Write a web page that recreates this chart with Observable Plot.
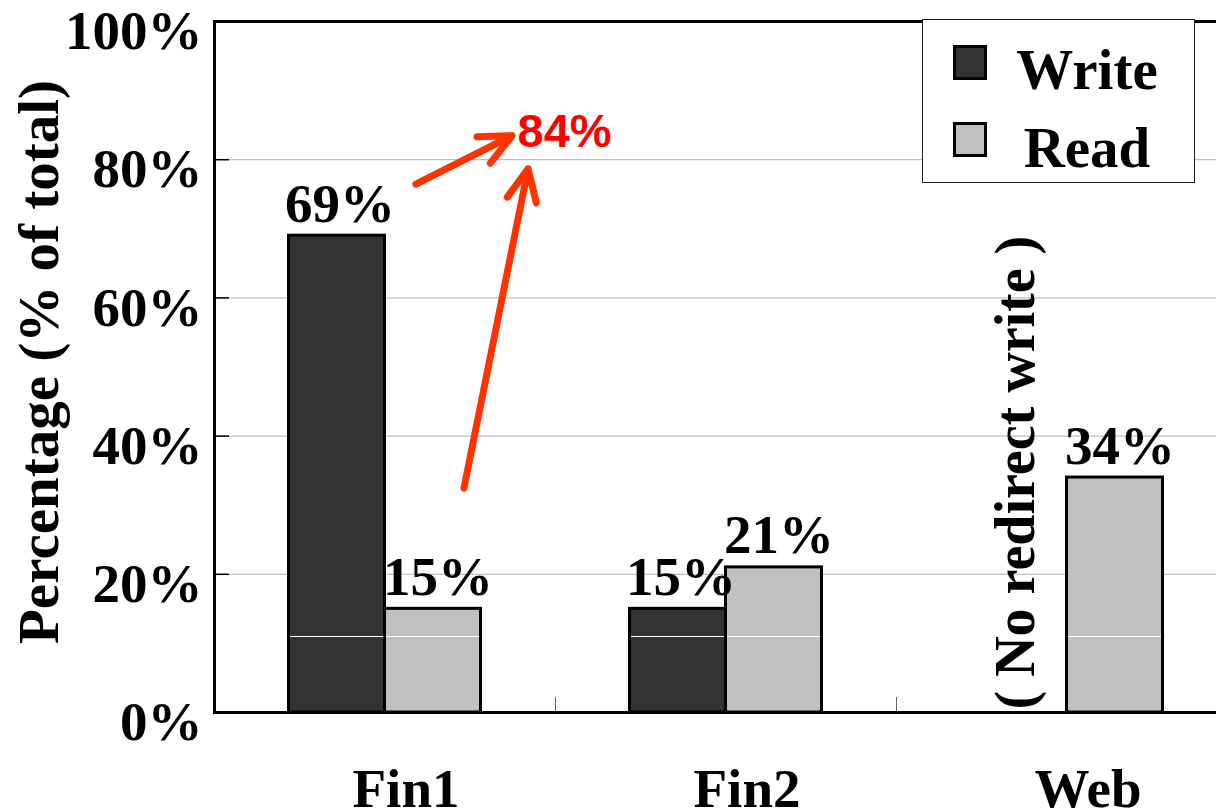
<!DOCTYPE html>
<html>
<head>
<meta charset="utf-8">
<script src="https://cdn.jsdelivr.net/npm/d3@7"></script>
<script src="https://cdn.jsdelivr.net/npm/@observablehq/plot@0.6"></script>
<style>
  html, body { margin: 0; padding: 0; background: #fff; overflow: hidden; }
  #chart { position: relative; width: 1216px; height: 811px; overflow: hidden; }
  #chart svg { display: block; }
  .legend {
    position: absolute; left: 922px; top: 19px; width: 273px; height: 164px;
    box-sizing: border-box; border: 1.5px solid #222; background: #fff;
    font: bold 57px "Liberation Serif", "Times New Roman", serif; color: #000;
  }
  .legend .swatch {
    position: absolute; left: 30px; width: 34px; height: 35px;
    box-sizing: border-box; border: 3px solid #000;
  }
  .legend .name {
    position: absolute; left: 75px; width: 178px; text-align: center;
    line-height: 57px; white-space: nowrap;
  }
</style>
</head>
<body>
<div id="chart"></div>
<script>
// Categories, series and values
const categories = ["Fin1", "Fin2", "Web"];
const seriesNames = ["Write", "Read"];
const writeValues = [69, 15, null];
const readValues = [15, 21, 34];
const yTicks = [0, 20, 40, 60, 80, 100];
const seriesColors = ["#333333", "#c0c0c0"];
const yLabel = "Percentage (% of total)";
const missingNote = "( No redirect write )";

// Long table built from the arrays above
const rows = categories.flatMap((category, i) => [
  {category, series: seriesNames[0], value: writeValues[i]},
  {category, series: seriesNames[1], value: readValues[i]}
]);
const writeRows = rows.filter(d => d.series === "Write" && d.value != null);
const readRows = rows.filter(d => d.series === "Read");
const missingRows = rows.filter(d => d.value == null);

// Combined write + read share for Fin1
const combined = [{category: "Fin1", total: writeValues[0] + readValues[0]}];

// Red annotation arrows: [fraction of category band, y value]
const arrows = [
  {category: "Fin1", from: [0.592, 76.4], to: [0.874, 83.4]},
  {category: "Fin1", from: [0.733, 32.4], to: [0.921, 78.6]}
];

// Layout
const W = 1216, H = 811;
const mL = 214, mR = -21, mT = 21, mB = 99;
const band = (W - mL - mR) / categories.length;
const half = band / 2;
const barW = 96;
const serif = "'Liberation Serif', 'Times New Roman', serif";
const sans = "'Liberation Sans', Arial, sans-serif";
const labelDy = -(14 + 0.32 * 55);

const plot = Plot.plot({
  width: W,
  height: H,
  marginLeft: mL,
  marginRight: mR,
  marginTop: mT,
  marginBottom: mB,
  style: {fontFamily: serif, fontWeight: "bold", fontSize: "55px", background: "white", color: "black"},
  x: {domain: categories, padding: 0, label: null},
  y: {domain: [0, 100], label: null},
  marks: [
    Plot.gridY(yTicks.slice(1, -1), {stroke: "#c0c0c0", strokeOpacity: 1, strokeWidth: 1.2}),

    // grouped bars
    Plot.barY(writeRows, {x: "category", y: "value", fill: seriesColors[0], stroke: "#000", strokeWidth: 3,
      insetLeft: half - barW, insetRight: half}),
    Plot.barY(readRows, {x: "category", y: "value", fill: seriesColors[1], stroke: "#000", strokeWidth: 3,
      insetLeft: half, insetRight: half - barW}),

    // thin white rule across bar interiors
    Plot.tickY(writeRows, {x: "category", y: () => 11, stroke: "#fff", strokeWidth: 1.2,
      insetLeft: half - barW + 1.5, insetRight: half + 1.5}),
    Plot.tickY(readRows, {x: "category", y: () => 11, stroke: "#fff", strokeWidth: 1.2,
      insetLeft: half + 1.5, insetRight: half - barW + 1.5}),

    // value labels
    Plot.text(writeRows, {x: "category", y: "value", text: d => `${d.value}%`, dx: -barW / 2 + 3, dy: labelDy, fontSize: 55}),
    Plot.text(readRows, {x: "category", y: "value", text: d => `${d.value}%`, dx: barW / 2 + 5, dy: labelDy, fontSize: 55}),

    // note in the empty write slot
    Plot.text(missingRows, {x: "category", y: () => 0, text: () => missingNote, rotate: -90,
      textAnchor: "start", dx: -51, dy: -3, fontSize: 56}),

    // combined share
    Plot.text(combined, {x: "category", y: "total", text: d => `${d.total}%`, textAnchor: "start",
      dx: 132.5, fill: "#ff0000", fontFamily: sans, fontSize: 47}),

    // axes
    Plot.axisY(yTicks, {anchor: "left", tickSize: 0, tickPadding: 12, tickFormat: d => `${d}%`, dy: 10, fontSize: 55, label: null}),
    Plot.axisY(yTicks.slice(1, -1), {anchor: "left", tickSize: 15, dx: 15, tickFormat: () => "", stroke: "#000", strokeWidth: 1.5, label: null}),
    Plot.axisX({anchor: "bottom", tickSize: 0, tickPadding: 55, dx: 21, fontSize: 55, label: null}),
    Plot.axisX(categories.slice(0, -1), {anchor: "bottom", tickSize: 15, dx: half, dy: -15, tickFormat: () => "", stroke: "#666", strokeWidth: 1, label: null}),
    Plot.ruleY([0, 100], {stroke: "#000", strokeWidth: 3}),
    Plot.frame({anchor: "left", stroke: "#000", strokeWidth: 3}),

    // y axis title
    Plot.text([yLabel], {frameAnchor: "left", text: d => d, rotate: -90, textAnchor: "middle",
      dx: -175, dy: -5, fontSize: 57})
  ]
});

// Arrows drawn through the plot's own x and y scales
const sx = plot.scale("x"), sy = plot.scale("y");
const arrowLayer = d3.select(plot).append("g")
  .attr("fill", "none").attr("stroke", "#ff3300").attr("stroke-width", 7)
  .attr("stroke-linecap", "round").attr("stroke-linejoin", "round");
const headLen = 35, headAngle = 25 * Math.PI / 180;
for (const a of arrows) {
  const x0 = sx.apply(a.category);
  const x1 = x0 + a.from[0] * sx.bandwidth, y1 = sy.apply(a.from[1]);
  const x2 = x0 + a.to[0] * sx.bandwidth, y2 = sy.apply(a.to[1]);
  const ang = Math.atan2(y2 - y1, x2 - x1) + Math.PI;
  const p = d3.path();
  p.moveTo(x1, y1); p.lineTo(x2, y2);
  p.moveTo(x2 + headLen * Math.cos(ang - headAngle), y2 + headLen * Math.sin(ang - headAngle));
  p.lineTo(x2, y2);
  p.lineTo(x2 + headLen * Math.cos(ang + headAngle), y2 + headLen * Math.sin(ang + headAngle));
  arrowLayer.append("path").attr("d", p.toString());
}

const chart = document.getElementById("chart");
chart.appendChild(plot);

// Legend
const legend = document.createElement("div");
legend.className = "legend";
const legendTops = [[25, 21], [102, 99]];
seriesNames.forEach((name, i) => {
  const sw = document.createElement("div");
  sw.className = "swatch";
  sw.style.top = `${legendTops[i][0]}px`;
  sw.style.background = seriesColors[i];
  const label = document.createElement("div");
  label.className = "name";
  label.style.top = `${legendTops[i][1]}px`;
  label.textContent = name;
  legend.append(sw, label);
});
chart.appendChild(legend);
</script>
</body>
</html>
